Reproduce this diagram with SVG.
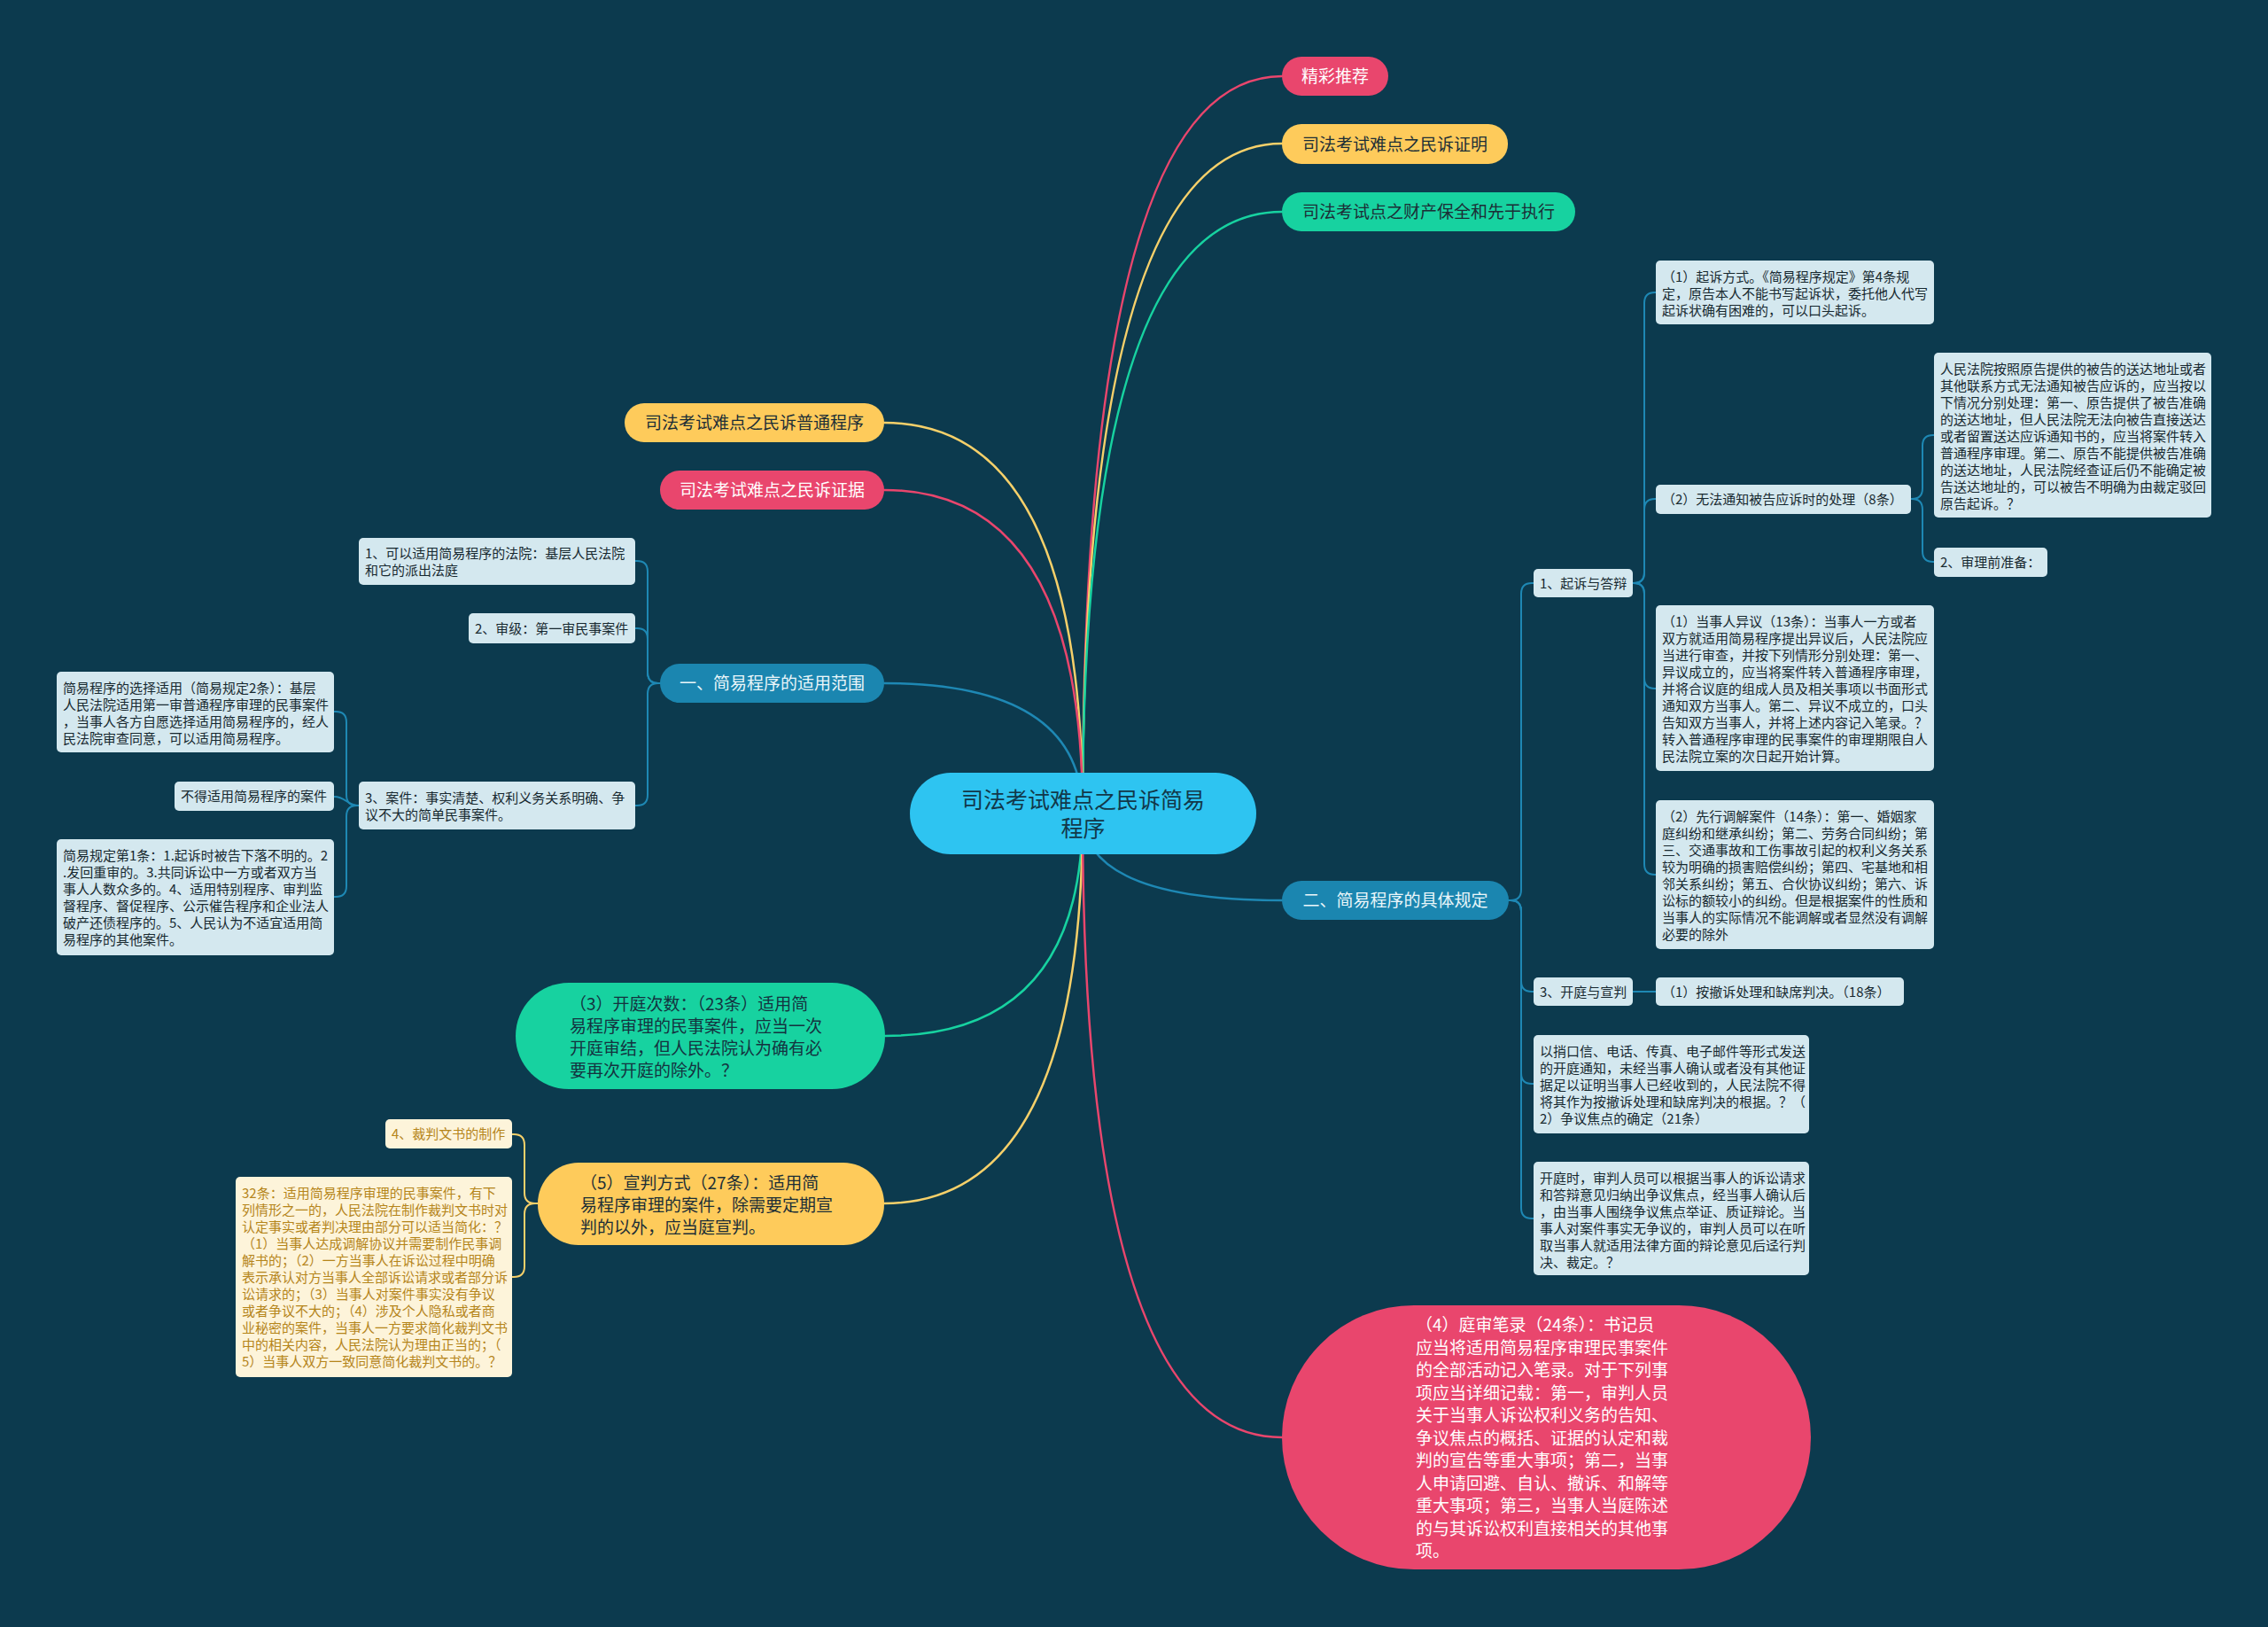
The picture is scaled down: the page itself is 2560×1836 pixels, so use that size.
<svg xmlns="http://www.w3.org/2000/svg" width="2560" height="1836" viewBox="0 0 2560 1836">
<style>
text{font-family:"Noto Sans CJK SC","Noto Sans",sans-serif;}
.c{fill:none;stroke-linecap:round;}
.m{stroke-width:2.5;}
.s{stroke-width:2;}
.pk{stroke:#E9466D;}
.yl{stroke:#F6D06A;}
.gr{stroke:#17D2A0;}
.bl{stroke:#1E88B4;}
.lb{fill:#D4E8EF;}
.lbt{font-size:15px;fill:#17282F;}
.yb{fill:#FDF4DA;}
.ybt{font-size:15px;fill:#B5851A;}
.mt{font-size:19px;}
</style>
<rect width="2560" height="1836" fill="#0C3A4E"/>
<g id="connectors">
<path class="c m pk" d="M1222,918 Q1222,86 1447,86"/>
<path class="c m yl" d="M1222,918 Q1222,162 1447,162"/>
<path class="c m gr" d="M1222,918 Q1222,239 1447,239"/>
<path class="c m yl" d="M1222,918 Q1222,477 998,477"/>
<path class="c m pk" d="M1222,918 Q1222,553 998,553"/>
<path class="c m bl" d="M1222,918 Q1222,771 998,771"/>
<path class="c m gr" d="M1222,918 Q1222,1169 999,1169"/>
<path class="c m yl" d="M1222,918 Q1222,1358 998,1358"/>
<path class="c m bl" d="M1222,918 Q1222,1016 1447,1016"/>
<path class="c m pk" d="M1222,918 Q1222,1622 1447,1622"/>
<path class="c s bl" d="M745,771 H743 Q731,771 731,759 V645 Q731,633 719,633 H717"/>
<path class="c s bl" d="M745,771 H743 Q731,771 731,759 V721 Q731,709 719,709 H717"/>
<path class="c s bl" d="M745,771 H743 Q731,771 731,783 V897 Q731,909 719,909 H717"/>
<path class="c s bl" d="M405,909 H403 Q391,909 391,897 V815 Q391,803 379,803 H377"/>
<path class="c s bl" d="M405,909 C391,909 391,899 377,899"/>
<path class="c s bl" d="M405,909 H403 Q391,909 391,921 V1000 Q391,1012 379,1012 H377"/>
<path class="c s yl" d="M607,1358 H604 Q592,1358 592,1346 V1292 Q592,1280 580,1280 H578"/>
<path class="c s yl" d="M607,1358 H604 Q592,1358 592,1370 V1429 Q592,1441 580,1441 H578"/>
<path class="c s bl" d="M1703,1016 H1705 Q1717,1016 1717,1004 V670 Q1717,658 1729,658 H1731"/>
<path class="c s bl" d="M1703,1016 H1705 Q1717,1016 1717,1028 V1107 Q1717,1119 1729,1119 H1731"/>
<path class="c s bl" d="M1703,1016 H1705 Q1717,1016 1717,1028 V1211 Q1717,1223 1729,1223 H1731"/>
<path class="c s bl" d="M1703,1016 H1705 Q1717,1016 1717,1028 V1363 Q1717,1375 1729,1375 H1731"/>
<path class="c s bl" d="M1843,658 H1844 Q1856,658 1856,646 V342 Q1856,330 1868,330 H1869"/>
<path class="c s bl" d="M1843,658 H1844 Q1856,658 1856,646 V575 Q1856,563 1868,563 H1869"/>
<path class="c s bl" d="M1843,658 H1844 Q1856,658 1856,670 V765 Q1856,777 1868,777 H1869"/>
<path class="c s bl" d="M1843,658 H1844 Q1856,658 1856,670 V975 Q1856,987 1868,987 H1869"/>
<path class="c s bl" d="M2157,563 H2158 Q2170,563 2170,551 V503 Q2170,491 2182,491 H2183"/>
<path class="c s bl" d="M2157,563 H2158 Q2170,563 2170,575 V622 Q2170,634 2182,634 H2183"/>
<path class="c s bl" d="M1843,1119 H1869"/>
</g>
<g id="center">
<rect x="1027" y="872" width="391" height="92" rx="46" fill="#2EC4F1"/>
<text x="1222.5" y="912" font-size="25" fill="#123849" text-anchor="middle">司法考试难点之民诉简易</text>
<text x="1222.5" y="944" font-size="25" fill="#123849" text-anchor="middle">程序</text>
</g>
<g id="n-jingcai">
<rect x="1447" y="64" width="120" height="44" rx="22" fill="#E9466D"/>
<text class="mt" x="1507" y="93" fill="#FFFFFF" text-anchor="middle">精彩推荐</text>
</g>
<g id="n-zhengming">
<rect x="1447" y="140" width="255" height="45" rx="22" fill="#FECB5B"/>
<text class="mt" x="1574.5" y="169.5" fill="#1C2E36" text-anchor="middle">司法考试难点之民诉证明</text>
</g>
<g id="n-caichan">
<rect x="1447" y="217" width="331" height="44" rx="22" fill="#17D2A0"/>
<text class="mt" x="1612.5" y="246" fill="#1C2E36" text-anchor="middle">司法考试点之财产保全和先于执行</text>
</g>
<g id="n-putong">
<rect x="705" y="455" width="293" height="44" rx="22" fill="#FECB5B"/>
<text class="mt" x="851.5" y="484" fill="#1C2E36" text-anchor="middle">司法考试难点之民诉普通程序</text>
</g>
<g id="n-zhengju">
<rect x="745" y="531" width="253" height="44" rx="22" fill="#E9466D"/>
<text class="mt" x="871.5" y="560" fill="#FFFFFF" text-anchor="middle">司法考试难点之民诉证据</text>
</g>
<g id="n-yi">
<rect x="745" y="749" width="253" height="44" rx="22" fill="#1B86B0"/>
<text class="mt" x="871.5" y="778" fill="#EAF6FA" text-anchor="middle">一、简易程序的适用范围</text>
</g>
<g id="n-er">
<rect x="1447" y="994" width="256" height="44" rx="22" fill="#1B86B0"/>
<text class="mt" x="1575" y="1023" fill="#EAF6FA" text-anchor="middle">二、简易程序的具体规定</text>
</g>
<g id="n-kaiting-cishu">
<rect x="582" y="1109" width="417" height="120" rx="60" fill="#17D2A0"/>
<text class="mt" fill="#14323F"><tspan x="643" y="1140">（3）开庭次数：（23条）适用简</tspan><tspan x="643" y="1165">易程序审理的民事案件，应当一次</tspan><tspan x="643" y="1190">开庭审结，但人民法院认为确有必</tspan><tspan x="643" y="1215">要再次开庭的除外。？</tspan></text>
</g>
<g id="n-xuanpan">
<rect x="607" y="1312" width="391" height="93" rx="46" fill="#FECB5B"/>
<text class="mt" fill="#1C2E36"><tspan x="655" y="1342">（5）宣判方式（27条）：适用简</tspan><tspan x="655" y="1367">易程序审理的案件，除需要定期宣</tspan><tspan x="655" y="1392">判的以外，应当庭宣判。</tspan></text>
</g>
<g id="n-bilu">
<rect x="1447" y="1473" width="597" height="298" rx="149" fill="#E9466D"/>
<text class="mt" fill="#FFFFFF"><tspan x="1598" y="1502">（4）庭审笔录（24条）：书记员</tspan><tspan x="1598" y="1527.5">应当将适用简易程序审理民事案件</tspan><tspan x="1598" y="1553">的全部活动记入笔录。对于下列事</tspan><tspan x="1598" y="1578.5">项应当详细记载：第一，审判人员</tspan><tspan x="1598" y="1604">关于当事人诉讼权利义务的告知、</tspan><tspan x="1598" y="1629.5">争议焦点的概括、证据的认定和裁</tspan><tspan x="1598" y="1655">判的宣告等重大事项；第二，当事</tspan><tspan x="1598" y="1680.5">人申请回避、自认、撤诉、和解等</tspan><tspan x="1598" y="1706">重大事项；第三，当事人当庭陈述</tspan><tspan x="1598" y="1731.5">的与其诉讼权利直接相关的其他事</tspan><tspan x="1598" y="1757">项。</tspan></text>
</g>
<g id="n-fayuan">
<rect class="lb" x="405" y="607" width="312" height="53" rx="5"/>
<text class="lbt"><tspan x="412" y="630">1、可以适用简易程序的法院：基层人民法院</tspan><tspan x="412" y="649">和它的派出法庭</tspan></text>
</g>
<g id="n-shenji">
<rect class="lb" x="529" y="692" width="188" height="34" rx="5"/>
<text class="lbt" x="536" y="714.5">2、审级：第一审民事案件</text>
</g>
<g id="n-anjian">
<rect class="lb" x="405" y="882" width="312" height="54" rx="5"/>
<text class="lbt"><tspan x="412" y="905.5">3、案件：事实清楚、权利义务关系明确、争</tspan><tspan x="412" y="924.5">议不大的简单民事案件。</tspan></text>
</g>
<g id="n-xuanze">
<rect class="lb" x="64" y="758" width="313" height="91" rx="5"/>
<text class="lbt"><tspan x="71" y="781.5">简易程序的选择适用（简易规定2条）：基层</tspan><tspan x="71" y="800.5">人民法院适用第一审普通程序审理的民事案件</tspan><tspan x="71" y="819.5">，当事人各方自愿选择适用简易程序的，经人</tspan><tspan x="71" y="838.5">民法院审查同意，可以适用简易程序。</tspan></text>
</g>
<g id="n-bude">
<rect class="lb" x="197" y="882" width="180" height="33" rx="5"/>
<text class="lbt" x="204" y="904">不得适用简易程序的案件</text>
</g>
<g id="n-guiding1">
<rect class="lb" x="64" y="947" width="313" height="131" rx="5"/>
<text class="lbt"><tspan x="71" y="970.5">简易规定第1条：1.起诉时被告下落不明的。2</tspan><tspan x="71" y="989.5">.发回重审的。3.共同诉讼中一方或者双方当</tspan><tspan x="71" y="1008.5">事人人数众多的。4、适用特别程序、审判监</tspan><tspan x="71" y="1027.5">督程序、督促程序、公示催告程序和企业法人</tspan><tspan x="71" y="1046.5">破产还债程序的。5、人民认为不适宜适用简</tspan><tspan x="71" y="1065.5">易程序的其他案件。</tspan></text>
</g>
<g id="n-caipan">
<rect class="yb" x="435" y="1263" width="143" height="33" rx="5"/>
<text class="ybt" x="442" y="1285">4、裁判文书的制作</text>
</g>
<g id="n-32tiao">
<rect class="yb" x="266" y="1328" width="312" height="226" rx="5"/>
<text class="ybt"><tspan x="273" y="1351.5">32条：适用简易程序审理的民事案件，有下</tspan><tspan x="273" y="1370.5">列情形之一的，人民法院在制作裁判文书时对</tspan><tspan x="273" y="1389.5">认定事实或者判决理由部分可以适当简化：？</tspan><tspan x="273" y="1408.5">（1）当事人达成调解协议并需要制作民事调</tspan><tspan x="273" y="1427.5">解书的；（2）一方当事人在诉讼过程中明确</tspan><tspan x="273" y="1446.5">表示承认对方当事人全部诉讼请求或者部分诉</tspan><tspan x="273" y="1465.5">讼请求的；（3）当事人对案件事实没有争议</tspan><tspan x="273" y="1484.5">或者争议不大的；（4）涉及个人隐私或者商</tspan><tspan x="273" y="1503.5">业秘密的案件，当事人一方要求简化裁判文书</tspan><tspan x="273" y="1522.5">中的相关内容，人民法院认为理由正当的；（</tspan><tspan x="273" y="1541.5">5）当事人双方一致同意简化裁判文书的。？</tspan></text>
</g>
<g id="n-qisu-dabian">
<rect class="lb" x="1731" y="642" width="112" height="32" rx="5"/>
<text class="lbt" x="1738" y="663.5">1、起诉与答辩</text>
</g>
<g id="n-qisu-fangshi">
<rect class="lb" x="1869" y="294" width="314" height="72" rx="5"/>
<text class="lbt"><tspan x="1876" y="317.5">（1）起诉方式。《简易程序规定》第4条规</tspan><tspan x="1876" y="336.5">定，原告本人不能书写起诉状，委托他人代写</tspan><tspan x="1876" y="355.5">起诉状确有困难的，可以口头起诉。</tspan></text>
</g>
<g id="n-wufa">
<rect class="lb" x="1869" y="547" width="288" height="33" rx="5"/>
<text class="lbt" x="1876" y="569">（2）无法通知被告应诉时的处理（8条）</text>
</g>
<g id="n-anzhao">
<rect class="lb" x="2183" y="398" width="313" height="186" rx="5"/>
<text class="lbt"><tspan x="2190" y="421.5">人民法院按照原告提供的被告的送达地址或者</tspan><tspan x="2190" y="440.5">其他联系方式无法通知被告应诉的，应当按以</tspan><tspan x="2190" y="459.5">下情况分别处理：第一、原告提供了被告准确</tspan><tspan x="2190" y="478.5">的送达地址，但人民法院无法向被告直接送达</tspan><tspan x="2190" y="497.5">或者留置送达应诉通知书的，应当将案件转入</tspan><tspan x="2190" y="516.5">普通程序审理。第二、原告不能提供被告准确</tspan><tspan x="2190" y="535.5">的送达地址，人民法院经查证后仍不能确定被</tspan><tspan x="2190" y="554.5">告送达地址的，可以被告不明确为由裁定驳回</tspan><tspan x="2190" y="573.5">原告起诉。？</tspan></text>
</g>
<g id="n-zhunbei">
<rect class="lb" x="2183" y="618" width="128" height="33" rx="5"/>
<text class="lbt" x="2190" y="640">2、审理前准备：</text>
</g>
<g id="n-yiyi">
<rect class="lb" x="1869" y="683" width="314" height="187" rx="5"/>
<text class="lbt"><tspan x="1876" y="706.5">（1）当事人异议（13条）：当事人一方或者</tspan><tspan x="1876" y="725.5">双方就适用简易程序提出异议后，人民法院应</tspan><tspan x="1876" y="744.5">当进行审查，并按下列情形分别处理：第一、</tspan><tspan x="1876" y="763.5">异议成立的，应当将案件转入普通程序审理，</tspan><tspan x="1876" y="782.5">并将合议庭的组成人员及相关事项以书面形式</tspan><tspan x="1876" y="801.5">通知双方当事人。第二、异议不成立的，口头</tspan><tspan x="1876" y="820.5">告知双方当事人，并将上述内容记入笔录。？</tspan><tspan x="1876" y="839.5">转入普通程序审理的民事案件的审理期限自人</tspan><tspan x="1876" y="858.5">民法院立案的次日起开始计算。</tspan></text>
</g>
<g id="n-tiaojie">
<rect class="lb" x="1869" y="903" width="314" height="168" rx="5"/>
<text class="lbt"><tspan x="1876" y="926.5">（2）先行调解案件（14条）：第一、婚姻家</tspan><tspan x="1876" y="945.5">庭纠纷和继承纠纷；第二、劳务合同纠纷；第</tspan><tspan x="1876" y="964.5">三、交通事故和工伤事故引起的权利义务关系</tspan><tspan x="1876" y="983.5">较为明确的损害赔偿纠纷；第四、宅基地和相</tspan><tspan x="1876" y="1002.5">邻关系纠纷；第五、合伙协议纠纷；第六、诉</tspan><tspan x="1876" y="1021.5">讼标的额较小的纠纷。但是根据案件的性质和</tspan><tspan x="1876" y="1040.5">当事人的实际情况不能调解或者显然没有调解</tspan><tspan x="1876" y="1059.5">必要的除外</tspan></text>
</g>
<g id="n-kaiting-xuanpan">
<rect class="lb" x="1731" y="1103" width="112" height="32" rx="5"/>
<text class="lbt" x="1738" y="1124.5">3、开庭与宣判</text>
</g>
<g id="n-chesu">
<rect class="lb" x="1869" y="1103" width="280" height="32" rx="5"/>
<text class="lbt" x="1876" y="1124.5">（1）按撤诉处理和缺席判决。（18条）</text>
</g>
<g id="n-shaokouxin">
<rect class="lb" x="1731" y="1168" width="311" height="111" rx="5"/>
<text class="lbt"><tspan x="1738" y="1191.5">以捎口信、电话、传真、电子邮件等形式发送</tspan><tspan x="1738" y="1210.5">的开庭通知，未经当事人确认或者没有其他证</tspan><tspan x="1738" y="1229.5">据足以证明当事人已经收到的，人民法院不得</tspan><tspan x="1738" y="1248.5">将其作为按撤诉处理和缺席判决的根据。？（</tspan><tspan x="1738" y="1267.5">2）争议焦点的确定（21条）</tspan></text>
</g>
<g id="n-kaitingshi">
<rect class="lb" x="1731" y="1311" width="311" height="128" rx="5"/>
<text class="lbt"><tspan x="1738" y="1334.5">开庭时，审判人员可以根据当事人的诉讼请求</tspan><tspan x="1738" y="1353.5">和答辩意见归纳出争议焦点，经当事人确认后</tspan><tspan x="1738" y="1372.5">，由当事人围绕争议焦点举证、质证辩论。当</tspan><tspan x="1738" y="1391.5">事人对案件事实无争议的，审判人员可以在听</tspan><tspan x="1738" y="1410.5">取当事人就适用法律方面的辩论意见后迳行判</tspan><tspan x="1738" y="1429.5">决、裁定。？</tspan></text>
</g>
</svg>
